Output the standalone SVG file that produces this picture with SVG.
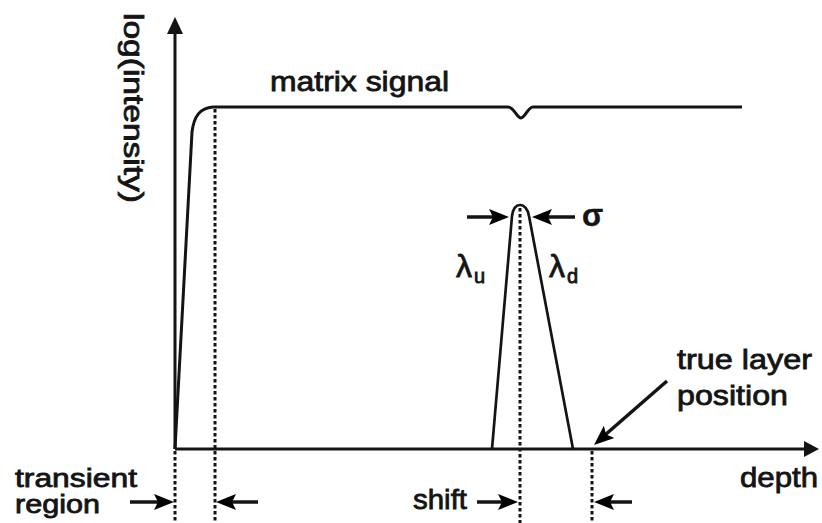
<svg xmlns="http://www.w3.org/2000/svg" width="822" height="523" viewBox="0 0 822 523">
<style>
.t{font-family:"Liberation Sans",Arial,sans-serif;font-size:28px;fill:#141414;stroke:#141414;stroke-width:0.8}
.ax{stroke:#141414;stroke-width:3;fill:none}
.cv{stroke:#141414;stroke-width:3;fill:none;stroke-linejoin:round}
.pk{stroke:#141414;stroke-width:2.7;fill:none;stroke-linejoin:round}
.dot{stroke:#141414;stroke-width:3;stroke-dasharray:3.5 2.5;fill:none}
.ar{stroke:#141414;stroke-width:3.5;fill:none}
.hd{fill:#141414}
</style>
<defs>
<path id="head" d="M0,0 L-20,-8 L-16,0 L-20,8 Z"/>
</defs>
<g id="axes">
<line class="ax" x1="175" y1="449" x2="175" y2="30"/>
<path class="hd" d="M175,17 L167,34 L183,34 Z"/>
<line class="ax" x1="175" y1="449" x2="806" y2="449"/>
<path class="hd" d="M819,449 L804,441 L804,457 Z"/>
<text class="t" transform="translate(124,13) rotate(90)" textLength="190" lengthAdjust="spacingAndGlyphs">log(intensity)</text>
<text class="t" x="740" y="487" textLength="78" lengthAdjust="spacingAndGlyphs">depth</text>
</g>
<g id="matrix-signal">
<path class="cv" d="M175,449 L192,132 C194,116 200,108 213,107 L508,107 C514,107 517,118 521,118 C525,118 528,107 533,107 L742,107"/>
<text class="t" x="270" y="91" textLength="179" lengthAdjust="spacingAndGlyphs">matrix signal</text>
</g>
<g id="peak">
<path class="pk" d="M492,449 L512,216 C513,209 516,205 520,205 C524,205 528,209 529,216 L573,449"/>
<text class="t" x="456" y="277" style="font-size:32px">λ</text>
<text class="t" x="474" y="283" style="font-size:20px">u</text>
<text class="t" x="549" y="277" style="font-size:32px">λ</text>
<text class="t" x="567" y="283" style="font-size:20px">d</text>
<text class="t" x="582" y="226" style="font-size:31px;font-weight:bold;stroke-width:0.4">σ</text>
</g>
<g id="transient-region">
<text class="t" x="15" y="487" style="font-size:26px" textLength="122" lengthAdjust="spacingAndGlyphs">transient</text>
<text class="t" x="15" y="513" style="font-size:26px" textLength="85" lengthAdjust="spacingAndGlyphs">region</text>
</g>
<g id="shift-label">
<text class="t" x="413" y="509" textLength="54" lengthAdjust="spacingAndGlyphs">shift</text>
</g>
<g id="true-layer-position">
<text class="t" x="677" y="369" textLength="135" lengthAdjust="spacingAndGlyphs">true layer</text>
<text class="t" x="677" y="405" textLength="111" lengthAdjust="spacingAndGlyphs">position</text>
</g>
<g id="connectors">
<line class="dot" x1="175" y1="451" x2="175" y2="523"/>
<line class="dot" x1="215" y1="109" x2="215" y2="523"/>
<line class="dot" x1="520" y1="208" x2="520" y2="523"/>
<line class="dot" x1="592" y1="451" x2="592" y2="523"/>
<line class="ar" x1="130" y1="502" x2="158" y2="502"/>
<use href="#head" transform="translate(174,502)"/>
<line class="ar" x1="258" y1="502" x2="232" y2="502"/>
<use href="#head" transform="translate(216,502) rotate(180)"/>
<line class="ar" x1="477" y1="502" x2="502" y2="502"/>
<use href="#head" transform="translate(518,502)"/>
<line class="ar" x1="632" y1="502" x2="610" y2="502"/>
<use href="#head" transform="translate(594,502) rotate(180)"/>
<line class="ar" x1="467" y1="217" x2="494" y2="217"/>
<use href="#head" transform="translate(509,217)"/>
<line class="ar" x1="575" y1="217" x2="548" y2="217"/>
<use href="#head" transform="translate(532,217) rotate(180)"/>
<line class="ar" stroke-width="3" x1="667" y1="381" x2="605" y2="435"/>
<use href="#head" transform="translate(594,445) rotate(139)"/>
</g>
</svg>
